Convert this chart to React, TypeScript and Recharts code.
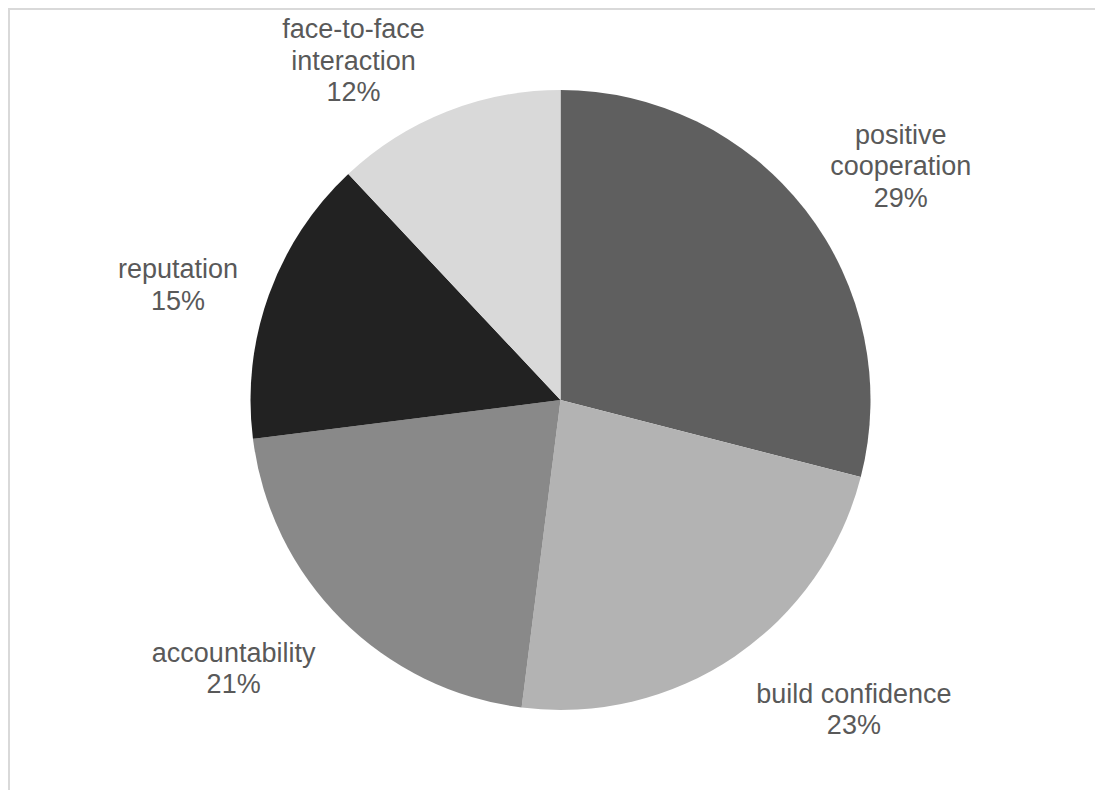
import React from 'react';
import { PieChart, Pie, Cell } from 'recharts';

const categories = [
  'positive cooperation',
  'build confidence',
  'accountability',
  'reputation',
  'face-to-face interaction',
];
const labelLines = [
  ['positive', 'cooperation'],
  ['build confidence'],
  ['accountability'],
  ['reputation'],
  ['face-to-face', 'interaction'],
];
const values = [29, 23, 21, 15, 12];
const colors = ['#5f5f5f', '#b3b3b3', '#898989', '#222222', '#d9d9d9'];
// small layout nudges for label placement (best-fit style)
const labelNudges = [
  [4, 13],
  [39, -10],
  [-18, -5],
  [8, 16],
  [-50, 35],
];

const FONT_SIZE = 27;
const LINE_H = 31.5;
const GAP = 45;
const FONT_FAMILY = '"Liberation Sans", Arial, Helvetica, sans-serif';
const TEXT_COLOR = '#595959';

const data = categories.map((name, i) => ({ name, value: values[i] }));

let ctx: CanvasRenderingContext2D | null = null;
function measure(s: string): number {
  try {
    if (!ctx) {
      const c = document.createElement('canvas');
      ctx = c.getContext('2d');
    }
    if (ctx) {
      ctx.font = `${FONT_SIZE}px ${FONT_FAMILY}`;
      return ctx.measureText(s).width;
    }
  } catch (e) {}
  return s.length * FONT_SIZE * 0.5;
}

const RADIAN = Math.PI / 180;

function renderLabel(props: any) {
  const { cx, cy, midAngle, outerRadius, percent, name } = props;
  const idx = categories.indexOf(name);
  const lines = [...labelLines[idx], `${Math.round(percent * 100)}%`];
  const w = Math.max(...lines.map(measure));
  const h = lines.length * LINE_H;
  const dx = Math.cos(-midAngle * RADIAN);
  const dy = Math.sin(-midAngle * RADIAN);
  const r = outerRadius + GAP;
  const bx = cx + dx * r + (dx * w) / 2 + labelNudges[idx][0];
  const by = cy + dy * r + (dy * h) / 2 + labelNudges[idx][1];
  const firstBaseline = by + 9 - ((lines.length - 1) * LINE_H) / 2;
  return (
    <text
      key={`lbl-${idx}`}
      x={bx}
      y={firstBaseline}
      textAnchor="middle"
      fill={TEXT_COLOR}
      fontSize={FONT_SIZE}
      fontFamily={FONT_FAMILY}
    >
      {lines.map((ln, i) => (
        <tspan key={i} x={bx} y={firstBaseline + i * LINE_H}>
          {ln}
        </tspan>
      ))}
    </text>
  );
}

export default function App() {
  return (
    <div
      style={{
        width: 1093,
        height: 780,
        borderTop: '2px solid #d9d9d9',
        borderLeft: '2px solid #d9d9d9',
        background: '#ffffff',
      }}
    >
      <PieChart width={1093} height={780} margin={{ top: 0, right: 0, bottom: 0, left: 0 }}>
        <Pie
          data={data}
          dataKey="value"
          nameKey="name"
          cx={550.5}
          cy={390}
          outerRadius={310}
          startAngle={90}
          endAngle={-270}
          stroke="none"
          labelLine={false}
          label={renderLabel}
          isAnimationActive={false}
        >
          {data.map((d, i) => (
            <Cell key={d.name} fill={colors[i]} stroke="none" />
          ))}
        </Pie>
      </PieChart>
    </div>
  );
}
